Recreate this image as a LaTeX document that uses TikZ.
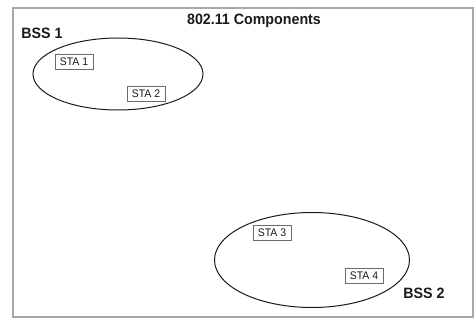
\documentclass[tikz,border=0pt]{standalone}
\usepackage{fontspec}
\setmainfont{Liberation Sans}
\newfontfamily\narrowfont[FakeStretch=0.95]{Liberation Sans}
\usepackage{tikz}
\usetikzlibrary{shapes.geometric}
\definecolor{FrameGray}{HTML}{A8A8A8}
\definecolor{BoxGray}{HTML}{6A6A6A}
\definecolor{InkDark}{HTML}{1A1A1A}

\begin{document}
\begin{tikzpicture}[x=1pt,y=-1pt,
                    every node/.style={text=InkDark},
                    bss/.style={draw=InkDark, ellipse, line width=1pt, inner sep=0pt},
                    sta/.style={draw=BoxGray, line width=0.9pt, inner sep=1.6pt,
                                minimum width=38pt, minimum height=15pt,
                                font=\narrowfont\fontsize{11}{12}\selectfont},
                    lbl/.style={font=\narrowfont\fontsize{15}{16}\selectfont\bfseries}]
      \useasboundingbox (0,0) rectangle (474,320);
      \draw[FrameGray, line width=1.3pt] (13,8) rectangle (473,317);
      \node[lbl] (title) at (254,21) {802.11 Components};
      % first basic service set
      \node[bss, minimum width=170pt, minimum height=72pt] (bss1) at (118,74) {};
      \node[lbl] (bss1lbl) at (42,33) {BSS 1};
      \node[sta] (sta1) at (74,62) {STA 1};
      \node[sta] (sta2) at (146,94) {STA 2};
      % second basic service set
      \node[bss, minimum width=195pt, minimum height=95pt] (bss2) at (312,260) {};
      \node[lbl] (bss2lbl) at (424,293) {BSS 2};
      \node[sta] (sta3) at (272,233) {STA 3};
      \node[sta] (sta4) at (364,276) {STA 4};
    \end{tikzpicture}
\end{document}
